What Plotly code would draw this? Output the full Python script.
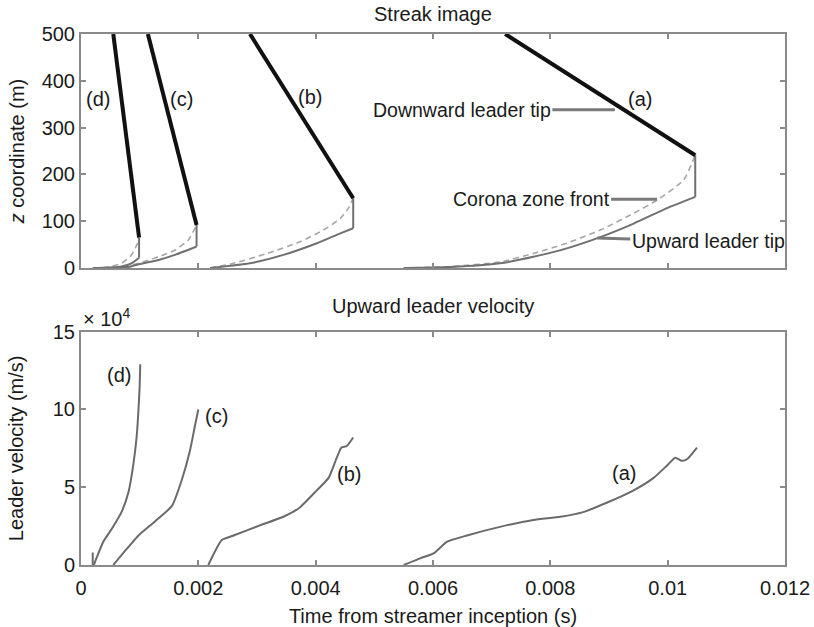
import plotly.graph_objects as go

# ---------------- data ----------------
# Streak image: downward leader tip (straight descent), upward leader tip and corona zone front
# times in seconds, heights in metres

# case (a)
down_a_t = [0.00723, 0.01047]
down_a_z = [500, 241]
up_a_t = [0.0055, 0.00629, 0.00714, 0.00771, 0.00828, 0.00885, 0.00942, 0.00999, 0.01047]
up_a_z = [0, 2, 10, 24, 42, 66, 95, 128, 152]
cor_a_t = [0.0055, 0.00629, 0.00714, 0.00771, 0.00828, 0.00885, 0.00942, 0.00982, 0.01027, 0.01047]
cor_a_z = [0, 3, 13, 31, 53, 81, 117, 145, 188, 241]

# case (b)
down_b_t = [0.00288, 0.00464]
down_b_z = [500, 149]
up_b_t = [0.0022, 0.00288, 0.00345, 0.00402, 0.00442, 0.00464]
up_b_z = [0, 10, 28, 53, 74, 85]
cor_b_t = [0.0022, 0.0026, 0.00317, 0.00373, 0.00413, 0.00442, 0.00456, 0.00464]
cor_b_z = [0, 10, 31, 56, 81, 106, 128, 149]

# case (c)
down_c_t = [0.00114, 0.00197]
down_c_z = [500, 92]
up_c_t = [0.00055, 0.0008, 0.00092, 0.00132, 0.0016, 0.00197]
up_c_z = [0, 2, 6, 17, 28, 46]
cor_c_t = [0.00055, 0.0008, 0.00098, 0.00132, 0.0016, 0.00183, 0.00197]
cor_c_z = [0, 4, 10, 24, 38, 60, 92]

# case (d)
down_d_t = [0.00055, 0.00099]
down_d_z = [500, 65]
up_d_t = [0.0002, 0.0004, 0.00055, 0.00069, 0.00086, 0.00099]
up_d_z = [0, 0.5, 1.5, 3.5, 10, 22]
cor_d_t = [0.0002, 0.0004, 0.0005, 0.00069, 0.00086, 0.00095, 0.00099]
cor_d_z = [0, 1, 3, 10, 28, 49, 65]

# Upward leader velocity (m/s)
vel_a_t = [0.0055, 0.00578, 0.00601, 0.00624, 0.00658, 0.00714, 0.00771, 0.00817, 0.00856,
           0.00896, 0.00942, 0.00976, 0.00999, 0.01013, 0.01024, 0.01033, 0.0105]
vel_a_v = [0, 4300, 7500, 15000, 19000, 24500, 29000, 31000, 34000,
           40000, 48000, 56000, 64000, 69000, 67000, 68000, 75500]
vel_b_t = [0.00217, 0.0024, 0.0026, 0.00305, 0.00345, 0.00373, 0.00402, 0.00422, 0.00436,
           0.00444, 0.00453, 0.00464]
vel_b_v = [0, 16000, 19000, 25500, 31000, 37000, 48000, 56000, 69000, 75500, 76500, 82000]
vel_c_t = [0.00055, 0.00069, 0.00084, 0.00098, 0.00126, 0.00155, 0.00172, 0.00186, 0.00194, 0.002]
vel_c_v = [0, 6400, 13000, 19000, 28000, 38000, 55000, 74000, 89000, 100000]
vel_d_t = [0.00022, 0.00027, 0.00038, 0.00052, 0.00069, 0.00081, 0.00089,
           0.00095, 0.00098, 0.001, 0.00101]
vel_d_v = [0, 5000, 15000, 23000, 34000, 47000, 64000, 83000, 100000, 115000, 129000]
# brief velocity burst just after inception in case (d)
vel_d_burst_t = [0.0002, 0.0002]
vel_d_burst_v = [0, 8000]

case_names = ["(a)", "(b)", "(c)", "(d)"]
streak_label_t = [0.00953, 0.0039, 0.00172, 0.000295]
streak_label_z = [361, 366, 361, 361]
vel_label_t = [0.00926, 0.00457, 0.00231, 0.00065]
vel_label_v = [59000, 58400, 96000, 122000]

x_ticks = [0, 0.002, 0.004, 0.006, 0.008, 0.01, 0.012]
x_tick_text = ["0", "0.002", "0.004", "0.006", "0.008", "0.01", "0.012"]
z_ticks = [0, 100, 200, 300, 400, 500]
v_ticks = [0, 50000, 100000, 150000]
v_tick_text = ["0", "5", "10", "15"]

# ---------------- styling ----------------
FONT = "Liberation Sans, Arial, Helvetica, sans-serif"
TXT = "#1a1a1a"
DOWN_COLOR = "#111111"
UP_COLOR = "#707070"
COR_COLOR = "#a6a6a6"
VEL_COLOR = "#6a6a6a"
FRAME = "#8a8a8a"

fig = go.Figure()

cases = [
    (down_a_t, down_a_z, up_a_t, up_a_z, cor_a_t, cor_a_z),
    (down_b_t, down_b_z, up_b_t, up_b_z, cor_b_t, cor_b_z),
    (down_c_t, down_c_z, up_c_t, up_c_z, cor_c_t, cor_c_z),
    (down_d_t, down_d_z, up_d_t, up_d_z, cor_d_t, cor_d_z),
]


def streak_line(x, y, **line):
    return go.Scatter(x=x, y=y, mode="lines", xaxis="x", yaxis="y", line=line,
                      showlegend=False, hoverinfo="skip")


for dt, dz, ut, uz, ct, cz in cases:
    # corona zone front (dashed)
    fig.add_trace(streak_line(ct, cz, color=COR_COLOR, width=1.6, dash="6px,4px",
                              shape="spline", smoothing=0.6))
    # upward leader tip
    fig.add_trace(streak_line(ut, uz, color=UP_COLOR, width=2, shape="spline", smoothing=0.6))
    # jump from the upward leader tip to the downward leader tip at the final jump
    fig.add_trace(streak_line([ut[-1], dt[-1]], [uz[-1], dz[-1]], color=UP_COLOR, width=2))
    # downward leader tip
    fig.add_trace(streak_line(dt, dz, color=DOWN_COLOR, width=4))

for vt, vv in [(vel_a_t, vel_a_v), (vel_b_t, vel_b_v), (vel_c_t, vel_c_v), (vel_d_t, vel_d_v)]:
    fig.add_trace(go.Scatter(x=vt, y=vv, mode="lines", xaxis="x2", yaxis="y2",
                             line=dict(color=VEL_COLOR, width=2, shape="spline", smoothing=0.5),
                             showlegend=False, hoverinfo="skip"))
fig.add_trace(go.Scatter(x=vel_d_burst_t, y=vel_d_burst_v, mode="lines", xaxis="x2", yaxis="y2",
                         line=dict(color=VEL_COLOR, width=2),
                         showlegend=False, hoverinfo="skip"))

annotations = []
for name, t, z in zip(case_names, streak_label_t, streak_label_z):
    annotations.append(dict(x=t, y=z, xref="x", yref="y", text=name, showarrow=False,
                            font=dict(size=20, color=TXT)))
for name, t, v in zip(case_names, vel_label_t, vel_label_v):
    annotations.append(dict(x=t, y=v, xref="x2", yref="y2", text=name, showarrow=False,
                            font=dict(size=20, color=TXT)))

# pointer labels on case (a)
pointer = dict(showarrow=True, arrowhead=0, arrowwidth=3, arrowcolor="#7a7a7a",
               xref="x", yref="y", font=dict(size=19.5, color=TXT))
annotations.append(dict(pointer, x=0.0091, y=338, ax=-153, ay=0, text="Downward leader tip"))
annotations.append(dict(pointer, x=0.00982, y=147, ax=-126, ay=0, text="Corona zone front"))
annotations.append(dict(pointer, x=0.0088, y=64, ax=111, ay=3, text="Upward leader tip"))

# panel titles and exponent marker
annotations.append(dict(x=0.5, y=1, xref="x domain", yref="y domain", yanchor="bottom",
                        yshift=7, text="Streak image", showarrow=False,
                        font=dict(size=20, color=TXT)))
annotations.append(dict(x=0.5, y=1, xref="x2 domain", yref="y2 domain", yanchor="bottom",
                        yshift=13, text="Upward leader velocity", showarrow=False,
                        font=dict(size=20, color=TXT)))
annotations.append(dict(x=0, y=1, xref="x2 domain", yref="y2 domain", xanchor="left",
                        yanchor="bottom", xshift=0, yshift=0,
                        text="× 10<sup>4</sup>", showarrow=False,
                        font=dict(size=20, color=TXT)))

axis_common = dict(showline=True, linecolor=FRAME, linewidth=2, mirror="ticks",
                   ticks="inside", ticklen=5, tickcolor=FRAME, tickwidth=1.5,
                   showgrid=False, zeroline=False, automargin=False,
                   tickfont=dict(size=20, color=TXT, family=FONT))

fig.update_layout(
    width=814, height=627,
    margin=dict(l=81, r=29, t=34, b=62),
    paper_bgcolor="white", plot_bgcolor="white",
    font=dict(family=FONT, color=TXT, size=20),
    showlegend=False,
    xaxis=dict(axis_common, domain=[0, 1], range=[0, 0.012], tickvals=x_ticks,
               showticklabels=False, anchor="y"),
    yaxis=dict(axis_common, domain=[0.5593, 1], range=[0, 500], tickvals=z_ticks,
               anchor="x",
               title=dict(text="<i>z</i> coordinate (m)", font=dict(size=20), standoff=12)),
    xaxis2=dict(axis_common, domain=[0, 1], range=[0, 0.012], tickvals=x_ticks,
                ticktext=x_tick_text, anchor="y2", ticklabelstandoff=4,
                title=dict(text="Time from streamer inception (s)", font=dict(size=20), standoff=12)),
    yaxis2=dict(axis_common, domain=[0, 0.4394], range=[0, 150000], tickvals=v_ticks,
                ticktext=v_tick_text, anchor="x2",
                title=dict(text="Leader velocity (m/s)", font=dict(size=20), standoff=24)),
    annotations=annotations,
)

fig.write_html("out.html")
